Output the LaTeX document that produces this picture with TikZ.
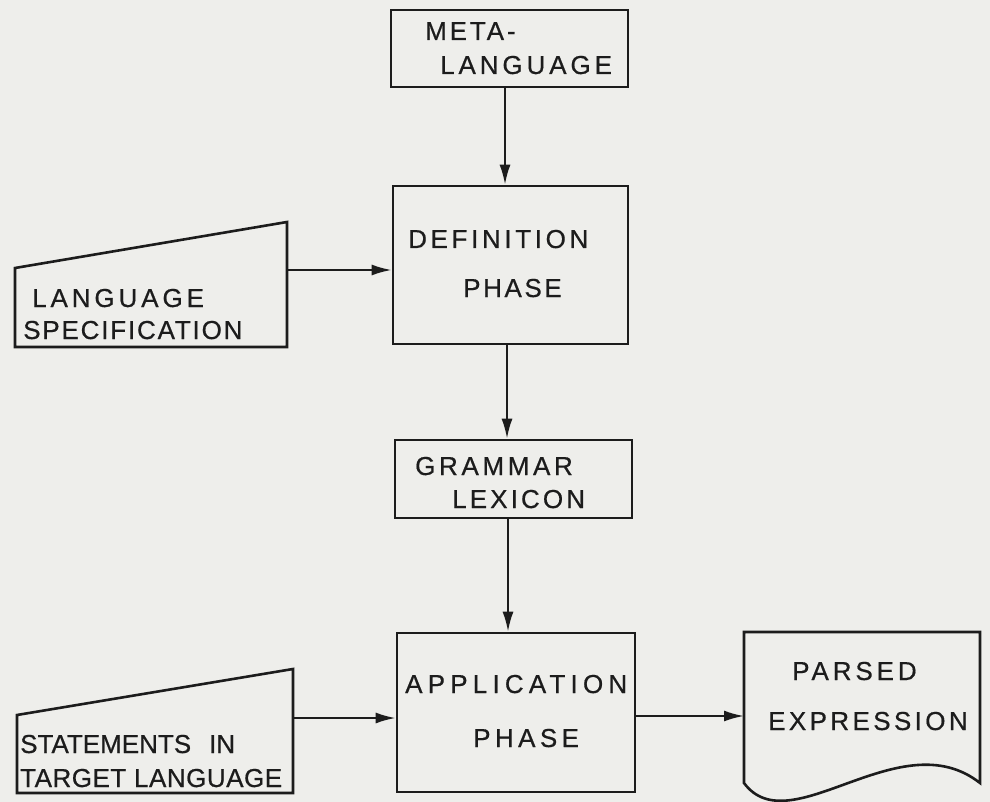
\documentclass[tikz,border=0pt]{standalone}
\usepackage{fontspec}
\setmainfont{Liberation Sans}[FakeBold=0.6]
\usetikzlibrary{arrows.meta}
\definecolor{paper}{RGB}{238,238,235}
\definecolor{ink}{RGB}{28,28,28}
\newcommand{\spaced}[2]{{\addfontfeature{LetterSpace=#1}#2}}
\tikzset{
  box/.style={draw=ink, line width=2.6pt, rectangle, inner sep=0pt},
  lbl/.style={anchor=base west, inner sep=0pt, text=ink, font=\fontsize{26}{28}\selectfont},
  arr/.style={draw=ink, line width=2.2pt, -{Latex[length=20pt,width=11pt]}},
  outl/.style={draw=ink, line width=2.6pt, line join=miter},
}
\begin{document}
\begin{tikzpicture}[x=1pt,y=-1pt]
\fill[paper] (0,0) rectangle (990,802);
\useasboundingbox (0,0) rectangle (990,802);

% boxes
\node[box, minimum width=237pt, minimum height=77pt]  (meta) at (509.5,48.5) {};
\node[box, minimum width=235pt, minimum height=158pt] (def)  at (510.5,265) {};
\node[box, minimum width=237pt, minimum height=78pt]  (gram) at (513.5,479) {};
\node[box, minimum width=238pt, minimum height=159pt] (app)  at (516,712.5) {};

% trapezoids (manual input) and document
\draw[outl] (15,268) -- (287,222) -- (287,347) -- (15,347) -- cycle;
\draw[outl] (17,715) -- (293,669) -- (293,793) -- (17,793) -- cycle;
\draw[outl] (980,783) .. controls (900,720) and (790,845) .. (744,783) -- (744,632) -- (980,632) -- cycle;

\coordinate (lsE) at (287,270);
\coordinate (stE) at (293,718);
\coordinate (pW)  at (744,716);
\coordinate (xa)  at (505,0);
\coordinate (xb)  at (507,0);
\coordinate (xc)  at (508,0);

% labels
\node[lbl] (tmeta1) at (425,40)  {\spaced{11}{META-}};
\node[lbl] (tmeta2) at (440,74)  {\spaced{15}{LANGUAGE}};
\node[lbl] (tdef1)  at (408,248) {\spaced{14}{DEFINITION}};
\node[lbl] (tdef2)  at (463,297) {\spaced{10}{PHASE}};
\node[lbl] (tls1)   at (32,307)  {\spaced{15}{LANGUAGE}};
\node[lbl] (tls2)   at (23,339)  {\spaced{7}{SPECIFICATION}};
\node[lbl] (tgr1)   at (415,475) {\spaced{14}{GRAMMAR}};
\node[lbl] (tgr2)   at (452,508) {\spaced{12}{LEXICON}};
\node[lbl] (tap1)   at (405,693) {\spaced{20}{APPLICATION}};
\node[lbl] (tap2)   at (473,747) {\spaced{17}{PHASE}};
\node[lbl] (tst1)   at (20,753)  {\spaced{0}{STATEMENTS}\hspace{18pt}IN};
\node[lbl] (tst2)   at (20,787)  {\spaced{2}{TARGET LANGUAGE}};
\node[lbl] (tpa1)   at (792,680) {\spaced{15}{PARSED}};
\node[lbl] (tpa2)   at (768,730) {\spaced{13}{EXPRESSION}};

% connectors
\draw[arr] (meta.south -| xa) -- (def.north -| xa);
\draw[arr] (def.south -| xb) -- (gram.north -| xb);
\draw[arr] (gram.south -| xc) -- (app.north -| xc);
\draw[arr] (lsE) -- (lsE -| def.west);
\draw[arr] (stE) -- (stE -| app.west);
\draw[arr] (app.east |- pW) -- (pW);
\end{tikzpicture}
\end{document}
